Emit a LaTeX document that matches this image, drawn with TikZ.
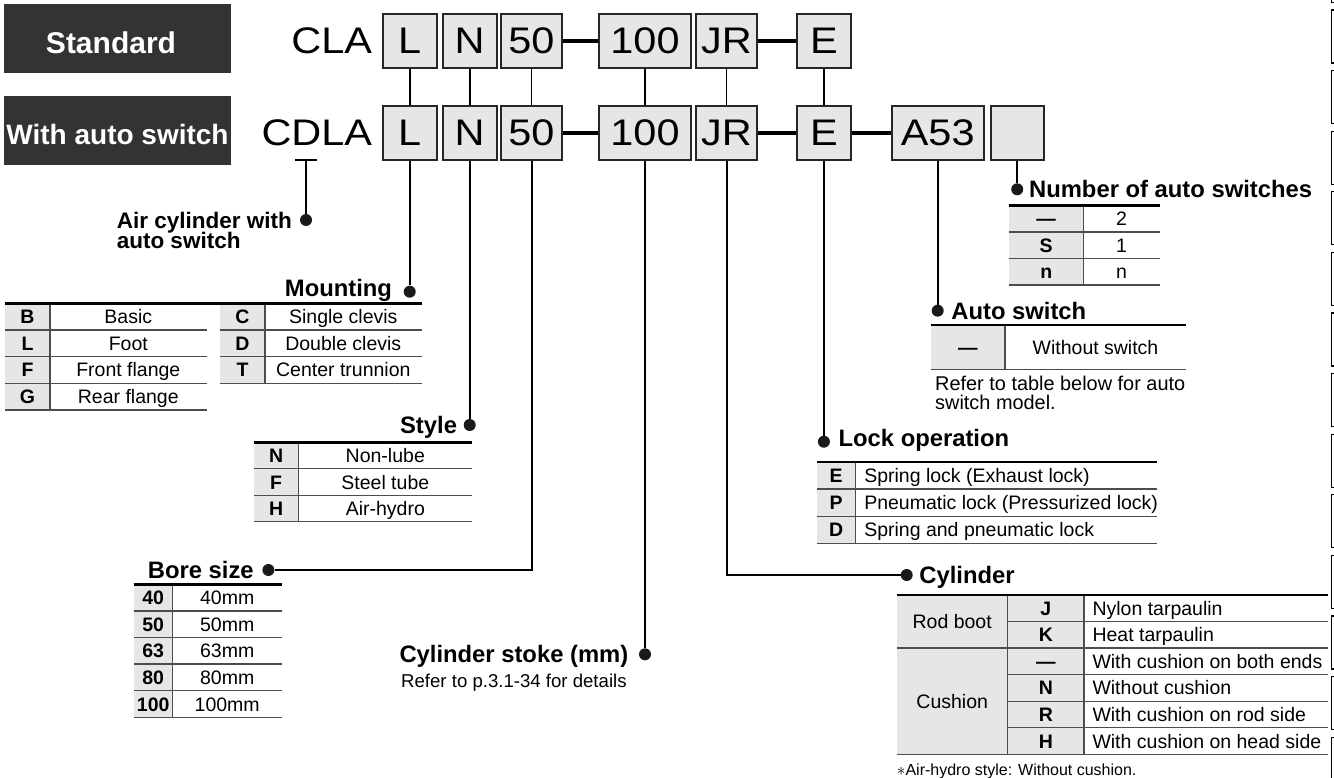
\documentclass[tikz,border=0pt]{standalone}
\usepackage{fontspec}
\setmainfont{Liberation Sans}
\newfontfamily\codefont{Liberation Sans}[FakeStretch=1.12]
\usetikzlibrary{positioning}
\definecolor{hdrgray}{HTML}{333333}
\definecolor{boxgray}{HTML}{E6E6E6}
\definecolor{rulegray}{HTML}{4D4D4D}
\definecolor{dotblack}{HTML}{1A1A1A}

\begin{document}
\begin{tikzpicture}[x=1pt,y=-1pt,
    hdrbox/.style={fill=hdrgray,text=white,minimum width=227,minimum height=69,inner sep=0,text depth=0},
    codebox/.style={draw=black!85,line width=2,fill=boxgray,minimum height=54,inner sep=0,font=\codefont\fontsize{37}{37}\selectfont},
    modelcode/.style={inner sep=0,font=\codefont\fontsize{37}{37}\selectfont},
    link/.style={line width=1.6},
    joinbar/.style={line width=3.3},
    lead/.style={line width=2},
    dot/.style={circle,fill=dotblack,inner sep=0,minimum size=12},
    title/.style={inner sep=0,text height=17,text depth=0,font=\bfseries\fontsize{23.8}{23.8}\selectfont},
    cell/.style={inner sep=0,text height=14,text depth=0,font=\fontsize{19.5}{19.5}\selectfont},
    key/.style={inner sep=0,text height=14,text depth=0,font=\bfseries\fontsize{19.5}{19.5}\selectfont},
    toprule/.style={line width=2.5},
    rowline/.style={draw=rulegray,line width=1.3},
    colline/.style={draw=rulegray,line width=1.3},
    edgetick/.style={line width=1.2}]
    \useasboundingbox (0,0) rectangle (1334,778);

    \node[hdrbox,text height=29.5,font=\bfseries\fontsize{30}{30}\selectfont] (stdbox) at (117.5,38.4) {Standard\hspace*{13pt}};
    \node[hdrbox,text height=27.5,font=\bfseries\fontsize{28}{28}\selectfont] (swbox) at (117.5,130.4) {With auto switch};

    \node[codebox,minimum width=54] (l1) at (409.7,41) {L};
    \node[codebox,minimum width=54] (n1) at (469.7,41) {N};
    \node[codebox,minimum width=61.6] (b1) at (531.5,41) {50};
    \node[codebox,minimum width=91.4] (s1) at (645,41) {100};
    \node[codebox,minimum width=61.3] (jr1) at (726.5,41) {JR};
    \node[codebox,minimum width=54.2] (e1) at (823.9,41) {E};
    \node[modelcode,left=9.4pt of l1] (cla) {CLA};

    \node[codebox,minimum width=54] (l2) at (409.7,133) {L};
    \node[codebox,minimum width=54] (n2) at (469.7,133) {N};
    \node[codebox,minimum width=61.6] (b2) at (531.5,133) {50};
    \node[codebox,minimum width=91.4] (s2) at (645,133) {100};
    \node[codebox,minimum width=61.3] (jr2) at (726.5,133) {JR};
    \node[codebox,minimum width=54.2] (e2) at (823.9,133) {E};
    \node[codebox,minimum width=91.8] (a2) at (937.7,133) {A53};
    \node[codebox,minimum width=53] (x2) at (1017.2,133) {};
    \node[modelcode,left=9.4pt of l2] (cdla) {CDLA};

    \draw[joinbar] (b1.east) -- (s1.west);
    \draw[joinbar] (jr1.east) -- (e1.west);
    \draw[joinbar] (b2.east) -- (s2.west);
    \draw[joinbar] (jr2.east) -- (e2.west);
    \draw[joinbar] (e2.east) -- (a2.west);
    \foreach \c in {l,n,b,s,jr,e}
        \draw[link] (\c1.south) -- (\c2.north);

    % leaders and dots
    \coordinate (dtick) at (306,160);
    \node[dot] (airdot) at (306,220) {};
    \node[dot] (mountdot) at (l2.south |- 0,291.7) {};
    \node[dot] (styledot) at (n2.south |- 0,425) {};
    \node[dot] (boredot) at (268.4,570) {};
    \node[dot] (stokedot) at (s2.south |- 0,654.3) {};
    \node[dot] (cyldot) at (906.7,575) {};
    \node[dot] (lockdot) at (e2.south |- 0,441.7) {};
    \node[dot] (autodot) at (a2.south |- 0,310.7) {};
    \node[dot] (numdot) at (x2.south |- 0,189.3) {};

    \draw[lead] ([xshift=-11pt]dtick) -- ([xshift=11pt]dtick);
    \draw[lead] (dtick) -- (airdot);
    \draw[lead] (l2.south) -- (mountdot);
    \draw[lead] (n2.south) -- (styledot);
    \draw[lead] (b2.south) |- (boredot);
    \draw[lead] (s2.south) -- (stokedot);
    \draw[lead] (jr2.south) |- (cyldot);
    \draw[lead] (e2.south) -- (lockdot);
    \draw[lead] (a2.south) -- (autodot);
    \draw[lead] (x2.south) -- (numdot);

    \node[title,font=\bfseries\fontsize{22.5}{22.5}\selectfont,left=7.8pt of airdot] (airtxt) {Air cylinder with};
    \node[title,font=\bfseries\fontsize{22.5}{22.5}\selectfont,anchor=west] (airtxt2) at ([yshift=-20.5pt]airtxt.west) {auto switch};
    \node[title,left=11.3pt of mountdot,yshift=3.5pt] (mounttxt) {Mounting};
    \node[title,left=6.3pt of styledot] (styletxt) {Style};
    \node[title,left=8.3pt of boredot] (boretxt) {Bore size};
    \node[title,left=10.3pt of stokedot] (stoketxt) {Cylinder stoke (mm)};
    \node[cell,font=\fontsize{18.6}{18.6}\selectfont] (stokenote) at ([yshift=-26pt]stoketxt.center) {Refer to p.3.1-34 for details};
    \node[title,right=6.3pt of cyldot] (cyltxt) {Cylinder};
    \node[title,right=8.3pt of lockdot,yshift=3.5pt] (locktxt) {Lock operation};
    \node[title,right=7.3pt of autodot] (autotxt) {Auto switch};
    \node[title,right=5.5pt of numdot] (numtxt) {Number of auto switches};

    % Mounting
    \fill[boxgray] (5,303.3) rectangle (50,410);
    \fill[boxgray] (220,303.3) rectangle (265,383.3);
    \foreach \k/\d [count=\i] in {B/Basic,L/Foot,F/Front flange,G/Rear flange}{
        \node[key] (mk\i) at (27.5,{289.97+26.67*\i}) {\k};
        \node[cell] (md\i) at (128.3,{289.97+26.67*\i}) {\d};
        \draw[rowline] (5,{303.3+26.67*\i}) -- (206.7,{303.3+26.67*\i});
    }
    \foreach \k/\d [count=\i] in {C/Single clevis,D/Double clevis,T/Center trunnion}{
        \node[key] (mrk\i) at (242.5,{289.97+26.67*\i}) {\k};
        \node[cell] (mrd\i) at (343.3,{289.97+26.67*\i}) {\d};
        \draw[rowline] (220,{303.3+26.67*\i}) -- (421.7,{303.3+26.67*\i});
    }
    \draw[colline] (50,303.3) -- (50,410);
    \draw[colline] (265,303.3) -- (265,383.3);
    \draw[toprule] (5,303.3) -- (421.7,303.3);

    % Style
    \fill[boxgray] (254,442.3) rectangle (298.3,521.7);
    \foreach \k/\d [count=\i] in {N/Non-lube,F/Steel tube,H/Air-hydro}{
        \node[key] (sk\i) at (276.2,{429.07+26.47*\i}) {\k};
        \node[cell] (sd\i) at (385.3,{429.07+26.47*\i}) {\d};
        \draw[rowline] (254,{442.3+26.47*\i}) -- (472.3,{442.3+26.47*\i});
    }
    \draw[colline] (298.3,442.3) -- (298.3,521.7);
    \draw[toprule] (254,442.3) -- (472.3,442.3);

    % Bore size
    \fill[boxgray] (133.7,584.3) rectangle (172.7,717.3);
    \foreach \k/\d [count=\i] in {40/40mm,50/50mm,63/63mm,80/80mm,100/100mm}{
        \node[key] (bk\i) at (153.2,{571+26.6*\i}) {\k};
        \node[cell] (bd\i) at (227.2,{571+26.6*\i}) {\d};
        \draw[rowline] (133.7,{584.3+26.6*\i}) -- (281.8,{584.3+26.6*\i});
    }
    \draw[colline] (172.7,584.3) -- (172.7,717.3);
    \draw[toprule] (133.7,584.3) -- (281.8,584.3);

    % Number of auto switches
    \fill[boxgray] (1008.6,205.7) rectangle (1083.7,285);
    \foreach \k/\d [count=\i] in {—/2,S/1,n/n}{
        \node[key] (nk\i) at (1046.2,{192.5+26.43*\i}) {\k};
        \node[cell] (nd\i) at (1121.6,{192.5+26.43*\i}) {\d};
        \draw[rowline] (1008.6,{205.7+26.43*\i}) -- (1159.6,{205.7+26.43*\i});
    }
    \draw[colline] (1083.7,205.7) -- (1083.7,285);
    \draw[toprule] (1008.6,205.7) -- (1159.6,205.7);

    % Auto switch
    \fill[boxgray] (930.7,325) rectangle (1005,369.3);
    \node[key] (ak1) at (967.9,347.2) {—};
    \node[cell] (ad1) at (1095.5,347.2) {Without switch};
    \draw[rowline] (930.7,369.3) -- (1186,369.3);
    \draw[colline] (1005,325) -- (1005,369.3);
    \draw[toprule] (930.7,325) -- (1186,325);
    \node[cell,font=\fontsize{19.9}{19.9}\selectfont,anchor=west] (autonote) at (935,383.3) {Refer to table below for auto};
    \node[cell,font=\fontsize{19.9}{19.9}\selectfont,anchor=west] (autonote2) at (935,402.7) {switch model.};

    % Lock operation
    \fill[boxgray] (817.1,462) rectangle (855.3,543.3);
    \foreach \k/\d [count=\i] in {E/Spring lock (Exhaust lock),P/Pneumatic lock (Pressurized lock),D/Spring and pneumatic lock}{
        \node[key] (lk\i) at (836.2,{448.45+27.1*\i}) {\k};
        \node[cell,anchor=west] (ld\i) at (864.1,{448.45+27.1*\i}) {\d};
        \draw[rowline] (817.1,{462+27.1*\i}) -- (1157,{462+27.1*\i});
    }
    \draw[colline] (855.3,462) -- (855.3,543.3);
    \draw[toprule] (817.1,462) -- (1157,462);

    % Cylinder
    \fill[boxgray] (896.7,595) rectangle (1084,754.3);
    \foreach \k/\d [count=\i] in {J/Nylon tarpaulin,K/Heat tarpaulin,—/With cushion on both ends,N/Without cushion,R/With cushion on rod side,H/With cushion on head side}{
        \node[key] (ck\i) at (1045.9,{581.73+26.55*\i}) {\k};
        \node[cell,anchor=west] (cd\i) at (1092.3,{581.73+26.55*\i}) {\d};
        \draw[rowline] (1007.7,{595+26.55*\i}) -- (1328,{595+26.55*\i});
    }
    \draw[rowline] (896.7,648.1) -- (1007.7,648.1);
    \draw[rowline] (896.7,754.3) -- (1007.7,754.3);
    \draw[colline] (1007.7,595) -- (1007.7,754.3);
    \draw[colline] (1084,595) -- (1084,754.3);
    \draw[toprule] (896.7,595) -- (1328,595);
    \node[cell] (rodboot) at (952.2,621.55) {Rod boot};
    \node[cell] (cushion) at (952.2,701.2) {Cushion};
    \node[inner sep=0,font=\fontsize{16}{16}\selectfont,anchor=west] (footnote) at (896.7,771.7) {$\ast$Air-hydro style: Without cushion.};

    \foreach \i in {-1,...,12}{
        \pgfmathsetmacro\t{10+60.6*\i}
        \draw[edgetick] (1334,\t) -- (1331.5,\t) -- (1331.5,{\t+53}) -- (1334,{\t+53});
    }
\end{tikzpicture}
\end{document}
